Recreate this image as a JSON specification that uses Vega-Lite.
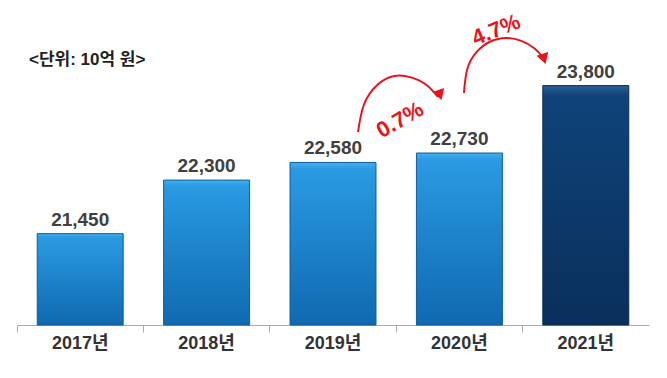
{
  "$schema": "https://vega.github.io/schema/vega-lite/v6.json",
  "width": 632,
  "height": 315,
  "padding": {"left": 16, "top": 10, "right": 19, "bottom": 5},
  "background": "white",
  "config": {
    "view": {"stroke": null},
    "font": "Liberation Sans, Noto Sans CJK KR, sans-serif"
  },
  "datasets": {
    "bars": [
      {"year": "2017년", "value": 21450},
      {"year": "2018년", "value": 22300},
      {"year": "2019년", "value": 22580},
      {"year": "2020년", "value": 22730},
      {"year": "2021년", "value": 23800}
    ],
    "arrows": [
      {"arrow": "a", "i": 0, "x": 2.698, "y": 23063},
      {"arrow": "a", "i": 1, "x": 2.745, "y": 23500},
      {"arrow": "a", "i": 2, "x": 2.850, "y": 23810},
      {"arrow": "a", "i": 3, "x": 2.983, "y": 23952},
      {"arrow": "a", "i": 4, "x": 3.117, "y": 23930},
      {"arrow": "a", "i": 5, "x": 3.240, "y": 23810},
      {"arrow": "a", "i": 6, "x": 3.330, "y": 23620},
      {"arrow": "b", "i": 0, "x": 3.536, "y": 23683},
      {"arrow": "b", "i": 1, "x": 3.562, "y": 24060},
      {"arrow": "b", "i": 2, "x": 3.635, "y": 24330},
      {"arrow": "b", "i": 3, "x": 3.745, "y": 24500},
      {"arrow": "b", "i": 4, "x": 3.869, "y": 24556},
      {"arrow": "b", "i": 5, "x": 3.990, "y": 24510},
      {"arrow": "b", "i": 6, "x": 4.095, "y": 24390},
      {"arrow": "b", "i": 7, "x": 4.160, "y": 24250}
    ],
    "heads": [
      {"arrow": "a", "x": 3.346, "y": 23650},
      {"arrow": "b", "x": 4.169, "y": 24222}
    ],
    "notes": [
      {"kind": "a", "x": 3.03, "y": 23254, "label": "0.7%"},
      {"kind": "b", "x": 3.79, "y": 24683, "label": "4.7%"},
      {"kind": "unit", "x": 0.095, "y": 24206, "label": "<단위: 10억 원>"}
    ]
  },
  "layer": [
    {
      "data": {"name": "bars"},
      "encoding": {
        "x": {
          "field": "year",
          "type": "nominal",
          "sort": null,
          "scale": {"paddingInner": 0, "paddingOuter": 0},
          "axis": {
            "title": null,
            "labelAngle": 0,
            "labelFontSize": 18,
            "labelFontWeight": "bold",
            "labelColor": "#333333",
            "labelPadding": 2,
            "domainColor": "#aaaaaa",
            "tickColor": "#aaaaaa",
            "tickSize": 7,
            "bandPosition": 0
          }
        },
        "y": {
          "field": "value",
          "type": "quantitative",
          "scale": {"domain": [20000, 25000], "zero": false, "nice": false},
          "axis": null
        }
      },
      "layer": [
        {
          "transform": [{"filter": "datum.year !== '2021년'"}],
          "mark": {
            "type": "bar",
            "width": {"band": 0.68},
            "stroke": "#0d5d9e",
            "strokeWidth": 1,
            "color": {
              "gradient": "linear",
              "x1": 0, "y1": 0, "x2": 0, "y2": 1,
              "stops": [
                {"offset": 0, "color": "#45b0ef"},
                {"offset": 0.04, "color": "#2a9ae2"},
                {"offset": 1, "color": "#0f69b0"}
              ]
            }
          },
          "encoding": {"y2": {"datum": 20000}}
        },
        {
          "transform": [{"filter": "datum.year === '2021년'"}],
          "mark": {
            "type": "bar",
            "width": {"band": 0.68},
            "stroke": "#0a2b55",
            "strokeWidth": 1,
            "color": {
              "gradient": "linear",
              "x1": 0, "y1": 0, "x2": 0, "y2": 1,
              "stops": [
                {"offset": 0, "color": "#2c5f96"},
                {"offset": 0.04, "color": "#0f4379"},
                {"offset": 1, "color": "#0a2f5c"}
              ]
            }
          },
          "encoding": {"y2": {"datum": 20000}}
        },
        {
          "mark": {
            "type": "text",
            "baseline": "alphabetic",
            "dy": -8,
            "fontSize": 19,
            "fontWeight": "bold",
            "color": "#404040"
          },
          "encoding": {"text": {"field": "value", "type": "quantitative", "format": ","}}
        }
      ]
    },
    {
      "layer": [
        {
          "data": {"name": "arrows"},
          "mark": {"type": "line", "interpolate": "natural", "color": "#e8141b", "strokeWidth": 2},
          "encoding": {
            "x": {"field": "x", "type": "quantitative", "scale": {"domain": [0, 5], "nice": false, "zero": false}, "axis": null},
            "y": {"field": "y", "type": "quantitative"},
            "detail": {"field": "arrow"},
            "order": {"field": "i"}
          }
        },
        {
          "data": {"name": "heads"},
          "mark": {"type": "point", "shape": "triangle-down", "filled": true, "size": 150, "angle": -18, "color": "#e8141b", "opacity": 1},
          "encoding": {
            "x": {"field": "x", "type": "quantitative"},
            "y": {"field": "y", "type": "quantitative"}
          }
        },
        {
          "data": {"name": "notes"},
          "transform": [{"filter": "datum.kind === 'a'"}],
          "mark": {"type": "text", "angle": -30, "fontSize": 22, "fontWeight": "bold", "color": "#e8141b", "baseline": "middle"},
          "encoding": {
            "x": {"field": "x", "type": "quantitative"},
            "y": {"field": "y", "type": "quantitative"},
            "text": {"field": "label"}
          }
        },
        {
          "data": {"name": "notes"},
          "transform": [{"filter": "datum.kind === 'b'"}],
          "mark": {"type": "text", "angle": -22, "fontSize": 22, "fontWeight": "bold", "color": "#e8141b", "baseline": "middle"},
          "encoding": {
            "x": {"field": "x", "type": "quantitative"},
            "y": {"field": "y", "type": "quantitative"},
            "text": {"field": "label"}
          }
        },
        {
          "data": {"name": "notes"},
          "transform": [{"filter": "datum.kind === 'unit'"}],
          "mark": {"type": "text", "align": "left", "baseline": "middle", "fontSize": 17, "fontWeight": "bold", "color": "#222222"},
          "encoding": {
            "x": {"field": "x", "type": "quantitative"},
            "y": {"field": "y", "type": "quantitative"},
            "text": {"field": "label"}
          }
        }
      ]
    }
  ],
  "resolve": {"scale": {"x": "independent"}}
}
